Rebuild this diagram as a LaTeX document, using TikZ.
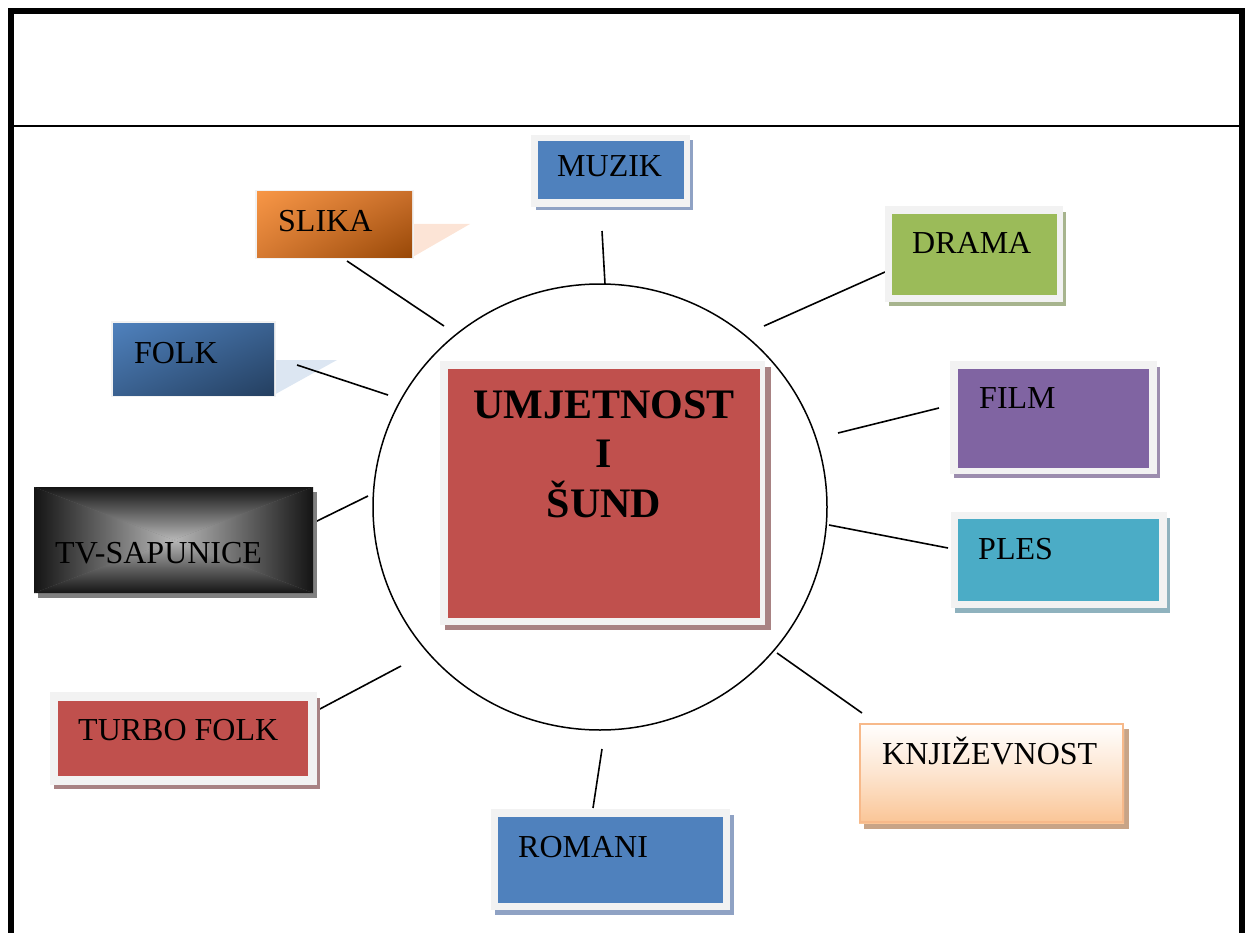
\documentclass[tikz,border=0pt]{standalone}
\usepackage{fontspec}
\setmainfont{Liberation Serif}
\usetikzlibrary{shadings}
\definecolor{framegray}{HTML}{F2F2F2}
\definecolor{cblue}{HTML}{4F81BD}
\definecolor{cgreen}{HTML}{9BBB59}
\definecolor{cpurple}{HTML}{8064A2}
\definecolor{cteal}{HTML}{4BACC6}
\definecolor{cred}{HTML}{C0504D}
\definecolor{shblue}{HTML}{8FA2C4}
\definecolor{shgreen}{HTML}{A7B48E}
\definecolor{shpurple}{HTML}{9C8DAE}
\definecolor{shteal}{HTML}{8FB2BE}
\definecolor{shred}{HTML}{A88283}
\definecolor{shbrown}{HTML}{C8A487}
\definecolor{peach}{HTML}{FAC596}
\definecolor{peachborder}{HTML}{F7B98A}
\definecolor{orangeA}{HTML}{F79646}
\definecolor{orangeB}{HTML}{984807}
\definecolor{orangeM}{HTML}{C86E2A}
\definecolor{navyA}{HTML}{4F81BD}
\definecolor{navyB}{HTML}{243F60}
\definecolor{navyM}{HTML}{3A6190}
\definecolor{slikash}{HTML}{FCE4D6}
\definecolor{folksh}{HTML}{DCE6F2}
\newcommand{\innerbox}[6]{%
  \node[rectangle, fill=#6, inner sep=0pt, outer sep=0pt,
        minimum width={#4-#2}, minimum height={#5-#3}]
        (#1) at ({(#2+#4)/2},{(#3+#5)/2}) {};}
\tikzset{
  lbl/.style={font=\fontsize{32}{38}\selectfont, inner sep=0pt, anchor=base west},
  ctr/.style={font=\fontsize{42}{50}\selectfont\bfseries, inner sep=0pt, anchor=base},
  conn/.style={line width=1.6pt},
}
\begin{document}
\begin{tikzpicture}[x=1pt,y=-1pt]
\useasboundingbox (0,0) rectangle (1246,933);
% outer frame
\draw[line width=6pt] (11,933) -- (11,11) -- (1242,11) -- (1242,933);
\draw[line width=2pt] (11,126) -- (1242,126);

% circle
\draw[line width=1.5pt] (600,507) ellipse [x radius=227, y radius=223];

% perspective shadows
\fill[slikash] (411,224) -- (470,224) -- (411,258) -- cycle;
\fill[folksh] (272,360) -- (337,360) -- (272,396) -- cycle;

% connector end points
\coordinate (s1) at (347,261); \coordinate (s2) at (444,326);
\coordinate (m1) at (602,231); \coordinate (m2) at (605,284);
\coordinate (d1) at (885,272); \coordinate (d2) at (764,326);
\coordinate (f1) at (297,365); \coordinate (f2) at (388,395);
\coordinate (fi1) at (939,408); \coordinate (fi2) at (838,433);
\coordinate (t1) at (315,522); \coordinate (t2) at (368,496);
\coordinate (p1) at (948,548); \coordinate (p2) at (829,525);
\coordinate (tf1) at (318,710); \coordinate (tf2) at (401,666);
\coordinate (k1) at (862,713); \coordinate (k2) at (777,653);
\coordinate (r1) at (593,808); \coordinate (r2) at (602,749);
\draw[conn] (s1) -- (s2);
\draw[conn] (m1) -- (m2);
\draw[conn] (d1) -- (d2);
\draw[conn] (f1) -- (f2);
\draw[conn] (fi1) -- (fi2);
\draw[conn] (t1) -- (t2);
\draw[conn] (p1) -- (p2);
\draw[conn] (tf1) -- (tf2);
\draw[conn] (k1) -- (k2);
\draw[conn] (r1) -- (r2);

% center box
\fill[shred] (445,367) rectangle (771,630);
\fill[framegray] (440,361) rectangle (765,625);
\innerbox{center}{448}{369}{760}{618}{cred}
\node[ctr] (c1) at (604,418) {UMJETNOST};
\node[ctr] (c2) at (604,467) {I};
\node[ctr] (c3) at (604,517) {ŠUND};

% MUZIK
\fill[shblue] (536,140) rectangle (693,210);
\fill[framegray] (531,135) rectangle (690,207);
\innerbox{muzik}{538}{141}{684}{199}{cblue}
\node[lbl] (muzikt) at (557,177) {MUZIK};

% DRAMA
\fill[shgreen] (889,212) rectangle (1066,306);
\fill[framegray] (885,206) rectangle (1063,302);
\innerbox{drama}{892}{214}{1057}{295}{cgreen}
\node[lbl] (dramat) at (912,253) {DRAMA};

% FILM
\fill[shpurple] (954,367) rectangle (1160,478);
\fill[framegray] (950,361) rectangle (1157,474);
\innerbox{film}{958}{369}{1149}{468}{cpurple}
\node[lbl] (filmt) at (979,408) {FILM};

% PLES
\fill[shteal] (955,518) rectangle (1170,613);
\fill[framegray] (951,512) rectangle (1167,608);
\innerbox{ples}{958}{519}{1159}{601}{cteal}
\node[lbl] (plest) at (978,559) {PLES};

% KNJIZEVNOST
\fill[shbrown] (864,729) rectangle (1129,829);
\shade[top color=white, bottom color=peach, middle color=peach!45]
  (859,723) rectangle (1124,823);
\node[rectangle, draw=peachborder, line width=2pt, inner sep=0pt,
      minimum width=263, minimum height=98] (knj) at (991.5,773) {};
\node[lbl] (knjt) at (882,764) {KNJIŽEVNOST};

% ROMANI
\fill[shblue] (495,815) rectangle (734,915);
\fill[framegray] (491,809) rectangle (730,910);
\innerbox{romani}{498}{817}{723}{903}{cblue}
\node[lbl] (romanit) at (518,857) {ROMANI};

% TURBO FOLK
\fill[shred] (54,698) rectangle (320,789);
\fill[framegray] (50,692) rectangle (317,785);
\innerbox{turbo}{58}{701}{308}{776}{cred}
\node[lbl] (turbot) at (78,740) {TURBO FOLK};

% TV-SAPUNICE
\fill[gray] (38,492) rectangle (317,598);
\fill[black!55] (34,487) rectangle (313,593);
\shade[top color=black!92, bottom color=black!28] (34,487) -- (313,487) -- (173.5,540) -- cycle;
\shade[bottom color=black!92, top color=black!28] (34,593) -- (313,593) -- (173.5,540) -- cycle;
\shade[left color=black!92, right color=black!28] (34,487) -- (34,593) -- (173.5,540) -- cycle;
\shade[right color=black!92, left color=black!28] (313,487) -- (313,593) -- (173.5,540) -- cycle;
\node[rectangle, inner sep=0pt, minimum width=279, minimum height=106] (tv) at (173.5,540) {};
\node[lbl] (tvt) at (55,563) {TV-SAPUNICE};

% FOLK
\fill[framegray] (111,321) rectangle (276,397);
\shade[upper left=navyA, lower right=navyB, upper right=navyM, lower left=navyM]
  (113,323) rectangle (274,395);
\node[rectangle, inner sep=0pt, minimum width=161, minimum height=72] (folk) at (193.5,359) {};
\node[lbl] (folkt) at (134,363) {FOLK};

% SLIKA
\fill[framegray] (255,190) rectangle (414,259);
\shade[upper left=orangeA, lower right=orangeB, upper right=orangeM, lower left=orangeM!70!orangeA]
  (257,192) rectangle (412,257);
\node[rectangle, inner sep=0pt, minimum width=155, minimum height=65] (slika) at (334.5,224.5) {};
\node[lbl] (slikat) at (278,232) {SLIKA};
\end{tikzpicture}
\end{document}
